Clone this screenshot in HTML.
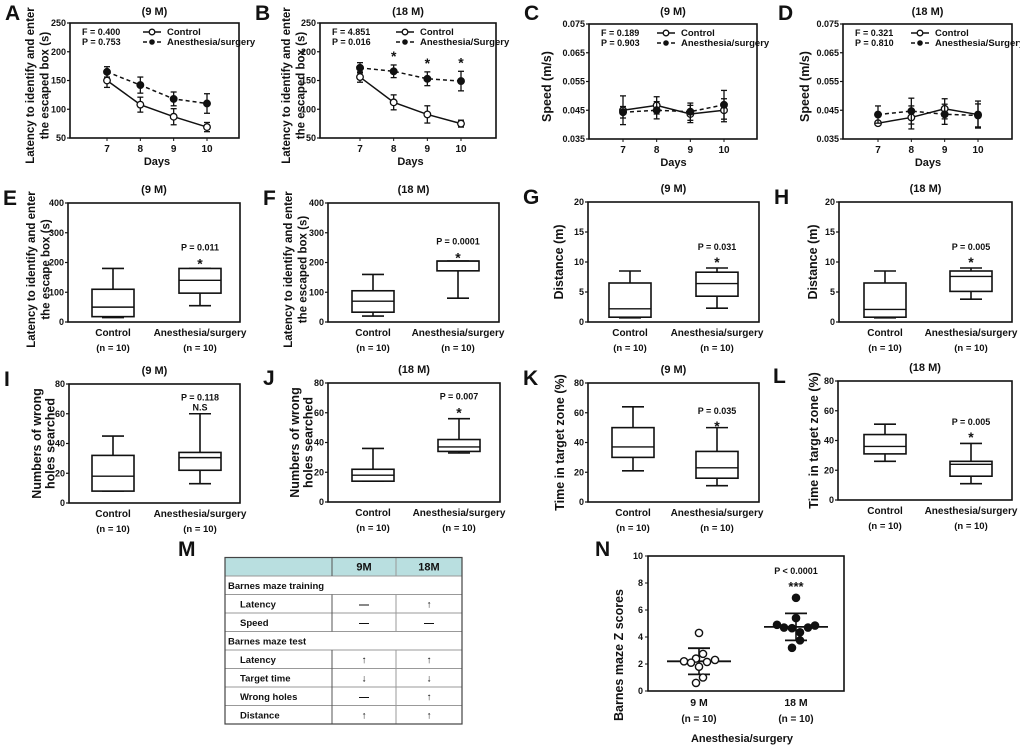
<!DOCTYPE html>
<html><head><meta charset="utf-8">
<style>
html,body{margin:0;padding:0;background:#fff;}
svg{display:block;font-family:"Liberation Sans",Arial,sans-serif;}
text{font-weight:bold;fill:#111;}
</style></head>
<body>
<svg id="fig" width="1020" height="750" viewBox="0 0 1020 750"></svg>
<script>
// ---- Line chart data (days 7-10) ----
const days = [7, 8, 9, 10];
const aCtrl = [150, 108, 87, 69];   const aCtrlErr = [12, 13, 14, 8];
const aAS   = [165, 142, 118, 110]; const aASErr   = [9, 14, 12, 17];
const bCtrl = [156, 112, 91, 75];   const bCtrlErr = [9, 13, 15, 6];
const bAS   = [172, 166, 153, 149]; const bASErr   = [9, 11, 12, 17];
const cCtrl = [0.0450, 0.0467, 0.0437, 0.0450]; const cCtrlErr = [0.005, 0.003, 0.003, 0.004];
const cAS   = [0.0443, 0.0450, 0.0445, 0.0469]; const cASErr   = [0.002, 0.003, 0.003, 0.005];
const dCtrl = [0.0405, 0.0425, 0.0455, 0.0435]; const dCtrlErr = [0.0005, 0.004, 0.0035, 0.0047];
const dAS   = [0.0435, 0.0447, 0.0436, 0.0432]; const dASErr   = [0.003, 0.0045, 0.0035, 0.004];
const latTicks = [50, 100, 150, 200, 250];
const spdTicks = [0.035, 0.045, 0.055, 0.065, 0.075];
// ---- Box plot data: [whiskerLow, q1, median, q3, whiskerHigh] ----
const eCtrl = [15, 18, 50, 110, 180];   const eAS = [55, 97, 140, 180, 180];
const fCtrl = [20, 33, 70, 105, 160];   const fAS = [80, 172, 205, 205, 205];
const gCtrl = [0.7, 0.8, 2.2, 6.5, 8.5]; const gAS = [2.3, 4.3, 6.4, 8.3, 9];
const hCtrl = [0.7, 0.8, 2.1, 6.5, 8.5]; const hAS = [3.8, 5.1, 7.6, 8.5, 9];
const iCtrl = [8, 8, 18, 32, 45];       const iAS = [13, 22, 30.5, 34, 60];
const jCtrl = [14, 14, 18, 22, 36];     const jAS = [33, 34, 37, 42, 56];
const kCtrl = [21, 30, 37, 50, 64];     const kAS = [11, 16, 23, 34, 50];
const lCtrl = [26, 31, 36, 44, 51];     const lAS = [11, 16, 24, 26, 38];
const boxCats = ["Control", "Anesthesia/surgery"];
const ticks400 = [0, 100, 200, 300, 400];
const ticks20 = [0, 5, 10, 15, 20];
const ticks80 = [0, 20, 40, 60, 80];
// ---- Z-score scatter data ----
const z9 = [4.3, 2.75, 2.4, 2.2, 2.1, 2.15, 2.3, 1.8, 1.0, 0.6];
const z18 = [6.9, 5.4, 4.9, 4.7, 4.65, 4.7, 4.85, 4.35, 3.75, 3.2];
const z9Jitter = [0, 4, -3, -15, -8, 8, 16, 0, 4, -3];
const z18Jitter = [0, 0, -19, -12, -4, 12, 19, 4, 4, -4];
const zMeans = [2.2, 4.75];
const zSD = [0.97, 1.0];
const zTicks = [0, 2, 4, 6, 8, 10];

const NS = "http://www.w3.org/2000/svg";
const svg = document.getElementById('fig');
function el(tag, attrs, parent, txt) {
  const e = document.createElementNS(NS, tag);
  for (const k in attrs) e.setAttribute(k, attrs[k]);
  if (txt !== undefined) e.textContent = txt;
  (parent || svg).appendChild(e);
  return e;
}
function txt(x, y, s, size, anchor, parent, rot) {
  const t = el('text', {x: x, y: y, 'font-size': size, 'text-anchor': anchor || 'middle'}, parent, s);
  if (rot) t.setAttribute('transform', 'rotate(-90 ' + x + ' ' + y + ')');
  return t;
}
function frame(g, L, T, R, B, ticks, yOf, fmt) {
  el('rect', {x: L, y: T, width: R - L, height: B - T, fill: 'none', stroke: '#111', 'stroke-width': 1.6}, g);
  ticks.forEach(v => {
    const y = yOf(v);
    el('line', {x1: L - 3, x2: L, y1: y, y2: y, stroke: '#111', 'stroke-width': 1.2}, g);
    const t = txt(L - 4, y + 3, fmt ? fmt(v) : String(v), 9, 'end', g);
    
    
  });
}
function panelLabel(g, letter, x, y) {
  const t = txt(x, y, letter, 21, 'start', g);
  
  
}
function ytitle(g, lines, x, cy, gap, size) {
  lines.forEach((s, i) => {
    const t = txt(x + i * gap, cy, s, size || 12.5, 'middle', g, true);
    
    
  });
}

function lineChart(o) {
  const g = el('g', {});
  
  
  const yOf = v => o.B - (v - o.ymin) / (o.ymax - o.ymin) * (o.B - o.T);
  const xOf = d => o.x7 + (d - 7) / 3 * (o.x10 - o.x7);
  frame(g, o.L, o.T, o.R, o.B, o.ticks, yOf, o.fmt);
  panelLabel(g, o.letter, o.L - 65, 20);
  const tt = txt((o.L + o.R) / 2, 15, o.title, 11, 'middle', g);
   
  days.forEach(d => {
    el('line', {x1: xOf(d), x2: xOf(d), y1: o.B, y2: o.B + 3, stroke: '#111'}, g);
    const t = txt(xOf(d), o.B + 14, String(d), 10, 'middle', g);
     
  });
  const xt = txt((o.x7 + o.x10) / 2, o.B + 27, 'Days', 11, 'middle', g);
   
  ytitle(g, o.ylab, o.ylx, (o.T + o.B) / 2 + 5, 14.5, o.yls);
  [[o.ctrl, o.ctrlErr, false], [o.as, o.asErr, true]].forEach(([vals, errs, filled]) => {
    const pts = vals.map((v, i) => xOf(days[i]) + ',' + yOf(v)).join(' ');
    const pl = el('polyline', {points: pts, fill: 'none', stroke: '#111', 'stroke-width': 1.5, 'stroke-dasharray': filled ? '4 3' : ''}, g);
    
    
    vals.forEach((v, i) => {
      const x = xOf(days[i]);
      const y1 = yOf(v + errs[i]), y2 = yOf(v - errs[i]);
      el('line', {x1: x, x2: x, y1: y1, y2: y2, stroke: '#111', 'stroke-width': 1.3}, g);
      el('line', {x1: x - 3, x2: x + 3, y1: y1, y2: y1, stroke: '#111', 'stroke-width': 1.3}, g);
      el('line', {x1: x - 3, x2: x + 3, y1: y2, y2: y2, stroke: '#111', 'stroke-width': 1.3}, g);
      const c = el('circle', {cx: x, cy: yOf(v), r: 3.3, fill: filled ? '#111' : '#fff', stroke: '#111', 'stroke-width': 1.3}, g);
      
      
    });
  });
  (o.stars || []).forEach(d => {
    const i = days.indexOf(d);
    const s = txt(xOf(d), yOf(o.as[i] + o.asErr[i]) - 4, '*', 14, 'middle', g);
     
  });
  txt(o.L + 12, o.T + 12, o.F, 9, 'start', g);
  txt(o.L + 12, o.T + 22, o.P, 9, 'start', g);
  const lx = o.L + o.legX;
  const lg = el('g', {}, g);
   
  el('line', {x1: lx, x2: lx + 18, y1: o.T + 9, y2: o.T + 9, stroke: '#111', 'stroke-width': 1.5}, lg);
  el('circle', {cx: lx + 9, cy: o.T + 9, r: 2.8, fill: '#fff', stroke: '#111', 'stroke-width': 1.3}, lg);
  txt(lx + 24, o.T + 12, 'Control', 9.5, 'start', lg);
  el('line', {x1: lx, x2: lx + 18, y1: o.T + 19, y2: o.T + 19, stroke: '#111', 'stroke-width': 1.5, 'stroke-dasharray': '4 3'}, lg);
  el('circle', {cx: lx + 9, cy: o.T + 19, r: 2.8, fill: '#111'}, lg);
  txt(lx + 24, o.T + 22, o.asLabel, 9.5, 'start', lg);
}

function boxChart(o) {
  const g = el('g', {});
  
  
  const yOf = v => o.B - (v - o.ymin) / (o.ymax - o.ymin) * (o.B - o.T);
  frame(g, o.L, o.T, o.R, o.B, o.ticks, yOf);
  panelLabel(g, o.letter, o.L - 65, o.T + 2);
  const tt = txt((o.L + o.R) / 2, o.T - 10, o.title, 11, 'middle', g);
   
  ytitle(g, o.ylab, o.ylx, (o.T + o.B) / 2 + (o.ylo || 0), o.gap || 14.5, o.yls);
  [o.ctrl, o.as].forEach((s, i) => {
    const cx = o.cx[i], w = 42;
    const bg = el('g', {}, g);
    
    
    const [lo, q1, md, q3, hi] = s.map(yOf);
    el('line', {x1: cx, x2: cx, y1: hi, y2: q3, stroke: '#111', 'stroke-width': 1.6}, bg);
    el('line', {x1: cx, x2: cx, y1: q1, y2: lo, stroke: '#111', 'stroke-width': 1.6}, bg);
    el('line', {x1: cx - 11, x2: cx + 11, y1: hi, y2: hi, stroke: '#111', 'stroke-width': 1.6}, bg);
    el('line', {x1: cx - 11, x2: cx + 11, y1: lo, y2: lo, stroke: '#111', 'stroke-width': 1.6}, bg);
    el('rect', {x: cx - w / 2, y: q3, width: w, height: Math.max(q1 - q3, 0.5), fill: '#fff', stroke: '#111', 'stroke-width': 1.6}, bg);
    el('line', {x1: cx - w / 2, x2: cx + w / 2, y1: md, y2: md, stroke: '#111', 'stroke-width': 1.4}, bg);
    const l1 = txt(cx, o.B + 14, boxCats[i], 10, 'middle', g);
     
    txt(cx, o.B + 29, '(n = 10)', 9.5, 'middle', g);
  });
  const cx = o.cx[1];
  txt(cx, o.B - (o.B - o.T) * o.pFrac, o.p, 9, 'middle', g);
  const st = txt(cx, o.B - (o.B - o.T) * o.pFrac + o.starDy, o.star, o.star === '*' ? 14 : 9, 'middle', g);
   
}

// Row 1
lineChart({letter:'A', title:'(9 M)', L:70, R:239, T:23, B:138, x7:107, x10:207, ymin:50, ymax:250, ticks:latTicks,
  ctrl:aCtrl, ctrlErr:aCtrlErr, as:aAS, asErr:aASErr, F:'F = 0.400', P:'P = 0.753', legX:73, asLabel:'Anesthesia/surgery',
  ylab:['Latency to identify and enter','the escaped box (s)'], ylx:34, yls:11.5});
lineChart({letter:'B', title:'(18 M)', L:320, R:496, T:23, B:138, x7:360, x10:461, ymin:50, ymax:250, ticks:latTicks,
  ctrl:bCtrl, ctrlErr:bCtrlErr, as:bAS, asErr:bASErr, F:'F = 4.851', P:'P = 0.016', legX:76, asLabel:'Anesthesia/Surgery',
  ylab:['Latency to identify and enter','the escaped box (s)'], ylx:290, yls:11.5, stars:[8,9,10]});
lineChart({letter:'C', title:'(9 M)', L:589, R:757, T:24, B:139, x7:623, x10:724, ymin:0.035, ymax:0.075, ticks:spdTicks, fmt:v=>v.toFixed(3),
  ctrl:cCtrl, ctrlErr:cCtrlErr, as:cAS, asErr:cASErr, F:'F = 0.189', P:'P = 0.903', legX:68, asLabel:'Anesthesia/surgery',
  ylab:['Speed (m/s)'], ylx:551, yls:12.5});
lineChart({letter:'D', title:'(18 M)', L:843, R:1012, T:24, B:139, x7:878, x10:978, ymin:0.035, ymax:0.075, ticks:spdTicks, fmt:v=>v.toFixed(3),
  ctrl:dCtrl, ctrlErr:dCtrlErr, as:dAS, asErr:dASErr, F:'F = 0.321', P:'P = 0.810', legX:68, asLabel:'Anesthesia/Surgery',
  ylab:['Speed (m/s)'], ylx:809, yls:12.5});

// Row 2
boxChart({letter:'E', title:'(9 M)', L:68, R:240, T:203, B:322, ymin:0, ymax:400, ticks:ticks400, ctrl:eCtrl, as:eAS, cx:[113,200],
  p:'P = 0.011', pFrac:0.6, star:'*', starDy:18, ylab:['Latency to identify and enter','the escape box (s)'], ylx:35, ylo:7, yls:11.5});
boxChart({letter:'F', title:'(18 M)', L:328, R:499, T:203, B:322, ymin:0, ymax:400, ticks:ticks400, ctrl:fCtrl, as:fAS, cx:[373,458],
  p:'P = 0.0001', pFrac:0.65, star:'*', starDy:18, ylab:['Latency to identify and enter','the escaped box (s)'], ylx:292, ylo:7, yls:11.5});
boxChart({letter:'G', title:'(9 M)', L:588, R:759, T:202, B:322, ymin:0, ymax:20, ticks:ticks20, ctrl:gCtrl, as:gAS, cx:[630,717],
  p:'P = 0.031', pFrac:0.6, star:'*', starDy:17, ylab:['Distance (m)'], ylx:563});
boxChart({letter:'H', title:'(18 M)', L:839, R:1012, T:202, B:322, ymin:0, ymax:20, ticks:ticks20, ctrl:hCtrl, as:hAS, cx:[885,971],
  p:'P = 0.005', pFrac:0.6, star:'*', starDy:17, ylab:['Distance (m)'], ylx:817});

// Row 3
boxChart({letter:'I', title:'(9 M)', L:69, R:240, T:384, B:503, ymin:0, ymax:80, ticks:ticks80, ctrl:iCtrl, as:iAS, cx:[113,200],
  p:'P = 0.118', pFrac:0.86, star:'N.S', starDy:10, ylab:['Numbers of wrong','holes searched'], ylx:41, gap:13.5});
boxChart({letter:'J', title:'(18 M)', L:328, R:500, T:383, B:502, ymin:0, ymax:80, ticks:ticks80, ctrl:jCtrl, as:jAS, cx:[373,459],
  p:'P = 0.007', pFrac:0.86, star:'*', starDy:18, ylab:['Numbers of wrong','holes searched'], ylx:299, gap:13.5});
boxChart({letter:'K', title:'(9 M)', L:588, R:759, T:383, B:502, ymin:0, ymax:80, ticks:ticks80, ctrl:kCtrl, as:kAS, cx:[633,717],
  p:'P = 0.035', pFrac:0.74, star:'*', starDy:17, ylab:['Time in target zone (%)'], ylx:564});
boxChart({letter:'L', title:'(18 M)', L:838, R:1012, T:381, B:500, ymin:0, ymax:80, ticks:ticks80, ctrl:lCtrl, as:lAS, cx:[885,971],
  p:'P = 0.005', pFrac:0.63, star:'*', starDy:17, ylab:['Time in target zone (%)'], ylx:818});

// Panel M table
(function(){
  const g = el('g', {});
  
  
  panelLabel(g, 'M', 178, 556);
  const L = 225, R = 462, c1 = 332, c2 = 396;
  const rows = [557.5, 576, 594.5, 613, 631.5, 650, 668.5, 687, 705.5, 724];
  el('rect', {x: L, y: rows[0], width: R - L, height: rows[1] - rows[0], fill: '#b9dfe0'}, g);
  const content = [
    ['', '9M', '18M', 'h'],
    ['Barnes maze training', '', '', 's'],
    ['Latency', '\u2014', '\u2191'],
    ['Speed', '\u2014', '\u2014'],
    ['Barnes maze test', '', '', 's'],
    ['Latency', '\u2191', '\u2191'],
    ['Target time', '\u2193', '\u2193'],
    ['Wrong holes', '\u2014', '\u2191'],
    ['Distance', '\u2191', '\u2191']
  ];
  content.forEach((r, i) => {
    const y0 = rows[i], y1 = rows[i + 1], ym = (y0 + y1) / 2 + 3.5;
    el('line', {x1: L, x2: R, y1: y1, y2: y1, stroke: '#999', 'stroke-width': 1}, g);
    if (r[3] !== 's') {
      el('line', {x1: c1, x2: c1, y1: y0, y2: y1, stroke: '#555', 'stroke-width': 1}, g);
      el('line', {x1: c2, x2: c2, y1: y0, y2: y1, stroke: '#999', 'stroke-width': 1}, g);
    }
    if (r[3] === 's') txt(L + 3, ym, r[0], 9.5, 'start', g);
    else if (r[3] === 'h') { txt((c1 + c2) / 2, ym, r[1], 11, 'middle', g); txt((c2 + R) / 2, ym, r[2], 11, 'middle', g); }
    else { txt(L + 15, ym, r[0], 9.5, 'start', g); txt((c1 + c2) / 2, ym, r[1], 10, 'middle', g); txt((c2 + R) / 2, ym, r[2], 10, 'middle', g); }
  });
  el('rect', {x: L, y: rows[0], width: R - L, height: rows[9] - rows[0], fill: 'none', stroke: '#444', 'stroke-width': 1.2}, g);
})();

// Panel N scatter
(function(){
  const g = el('g', {});
  
  
  const L = 648, R = 844, T = 556, B = 691;
  const yOf = v => B - v * 13.5;
  panelLabel(g, 'N', 595, 556);
  el('rect', {x: L, y: T, width: R - L, height: B - T, fill: 'none', stroke: '#111', 'stroke-width': 1.6}, g);
  zTicks.forEach(v => {
    el('line', {x1: L - 3, x2: L, y1: yOf(v), y2: yOf(v), stroke: '#111'}, g);
    const t = txt(L - 5, yOf(v) + 3, String(v), 9, 'end', g);
     
  });
  ytitle(g, ['Barnes maze Z scores'], 623, 655, 0, 12.5);
  const cxs = [699, 796];
  [[z9, z9Jitter, false], [z18, z18Jitter, true]].forEach(([vals, jit, filled], k) => {
    const cx = cxs[k];
    const m = yOf(zMeans[k]), hi = yOf(zMeans[k] + zSD[k]), lo = yOf(zMeans[k] - zSD[k]);
    el('line', {x1: cx - 32, x2: cx + 32, y1: m, y2: m, stroke: '#111', 'stroke-width': 1.8}, g);
    el('line', {x1: cx, x2: cx, y1: hi, y2: lo, stroke: '#111', 'stroke-width': 1.6}, g);
    el('line', {x1: cx - 11, x2: cx + 11, y1: hi, y2: hi, stroke: '#111', 'stroke-width': 1.8}, g);
    el('line', {x1: cx - 11, x2: cx + 11, y1: lo, y2: lo, stroke: '#111', 'stroke-width': 1.8}, g);
    vals.forEach((v, i) => {
      const c = el('circle', {cx: cx + jit[i], cy: yOf(v), r: 3.6, fill: filled ? '#111' : '#fff', stroke: '#111', 'stroke-width': 1.4}, g);
      
      
    });
  });
  txt(699, 706, '9 M', 10.5, 'middle', g);
  txt(796, 706, '18 M', 10.5, 'middle', g);
  txt(699, 722, '(n = 10)', 10, 'middle', g);
  txt(796, 722, '(n = 10)', 10, 'middle', g);
  txt(796, 574, 'P < 0.0001', 9, 'middle', g);
  const st = txt(796, 591, '***', 13, 'middle', g);
   
  const xt = txt(742, 742, 'Anesthesia/surgery', 11, 'middle', g);
   
})();
</script>
</body></html>
